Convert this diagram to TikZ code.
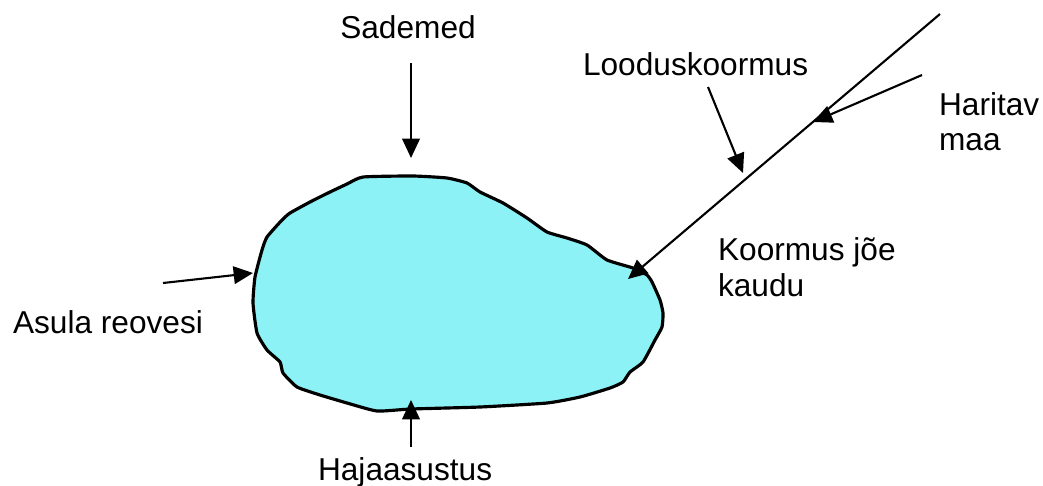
\documentclass[tikz,border=0pt]{standalone}
\usepackage{fontspec}
\setmainfont{Liberation Sans}
\usetikzlibrary{arrows.meta}
\definecolor{laketint}{RGB}{140,242,245}

\begin{document}
\begin{tikzpicture}[>={Triangle[length=5.5pt, width=5pt]}, line width=0.6pt,
  every node/.style={font=\fontsize{9}{10}\selectfont, inner sep=0pt}]
  \useasboundingbox (0,0) rectangle (10.43,-4.85);

  % Lake
  \draw[fill=laketint, line width=0.9pt] plot[smooth cycle, tension=0.3] coordinates {
    (3.63,-1.77) (4.13,-1.76) (4.47,-1.78) (4.67,-1.83) (4.80,-1.92)
    (5.03,-2.03) (5.27,-2.18) (5.47,-2.32) (5.67,-2.38) (5.87,-2.45)
    (6.07,-2.60) (6.33,-2.68) (6.47,-2.75) (6.52,-2.82) (6.60,-3.00)
    (6.63,-3.13) (6.62,-3.27) (6.55,-3.40) (6.43,-3.62) (6.30,-3.72)
    (6.23,-3.82) (6.10,-3.88) (5.80,-3.97) (5.47,-4.03) (4.80,-4.07)
    (4.11,-4.09) (3.77,-4.11) (3.47,-4.03) (3.20,-3.95) (2.97,-3.87)
    (2.83,-3.73) (2.80,-3.62) (2.67,-3.50) (2.57,-3.33) (2.53,-3.03)
    (2.55,-2.77) (2.62,-2.50) (2.67,-2.37) (2.82,-2.20) (2.90,-2.13)
    (3.10,-2.02) (3.30,-1.92) (3.47,-1.84)};

  % Labels
  \node[anchor=base] (sademed) at (4.08,-0.38) {Sademed};
  \node[anchor=base west] (loodus) at (5.82,-0.76) {Looduskoormus};
  \node[anchor=base west] (haritav) at (9.38,-1.15) {Haritav};
  \node[anchor=base west] (maa) at (9.38,-1.50) {maa};
  \node[anchor=base west] (koormus) at (7.17,-2.60) {Koormus jõe};
  \node[anchor=base west] (kaudu) at (7.17,-2.96) {kaudu};
  \node[anchor=base west] (asula) at (0.12,-3.33) {Asula reovesi};
  \node[anchor=base west] (haja) at (3.17,-4.80) {Hajaasustus};

  % Arrow ends
  \coordinate (sadA) at (4.11,-0.63);
  \coordinate (sadB) at (4.11,-1.58);
  \coordinate (asuA) at (1.63,-2.83);
  \coordinate (asuB) at (2.53,-2.73);
  \coordinate (hajA) at (4.11,-4.47);
  \coordinate (hajB) at (4.11,-4.00);
  \coordinate (jogiA) at (9.40,-0.14);
  \coordinate (jogiB) at (6.28,-2.79);
  \coordinate (harA) at (9.22,-0.75);
  \coordinate (harB) at (8.13,-1.22);
  \coordinate (looA) at (7.08,-0.87);
  \coordinate (looB) at (7.43,-1.73);

  % Arrows
  \draw[->] (sadA) -- (sadB);
  \draw[->] (asuA) -- (asuB);
  \draw[->] (hajA) -- (hajB);
  \draw[->] (jogiA) -- (jogiB);
  \draw[->] (harA) -- (harB);
  \draw[->] (looA) -- (looB);
\end{tikzpicture}
\end{document}
